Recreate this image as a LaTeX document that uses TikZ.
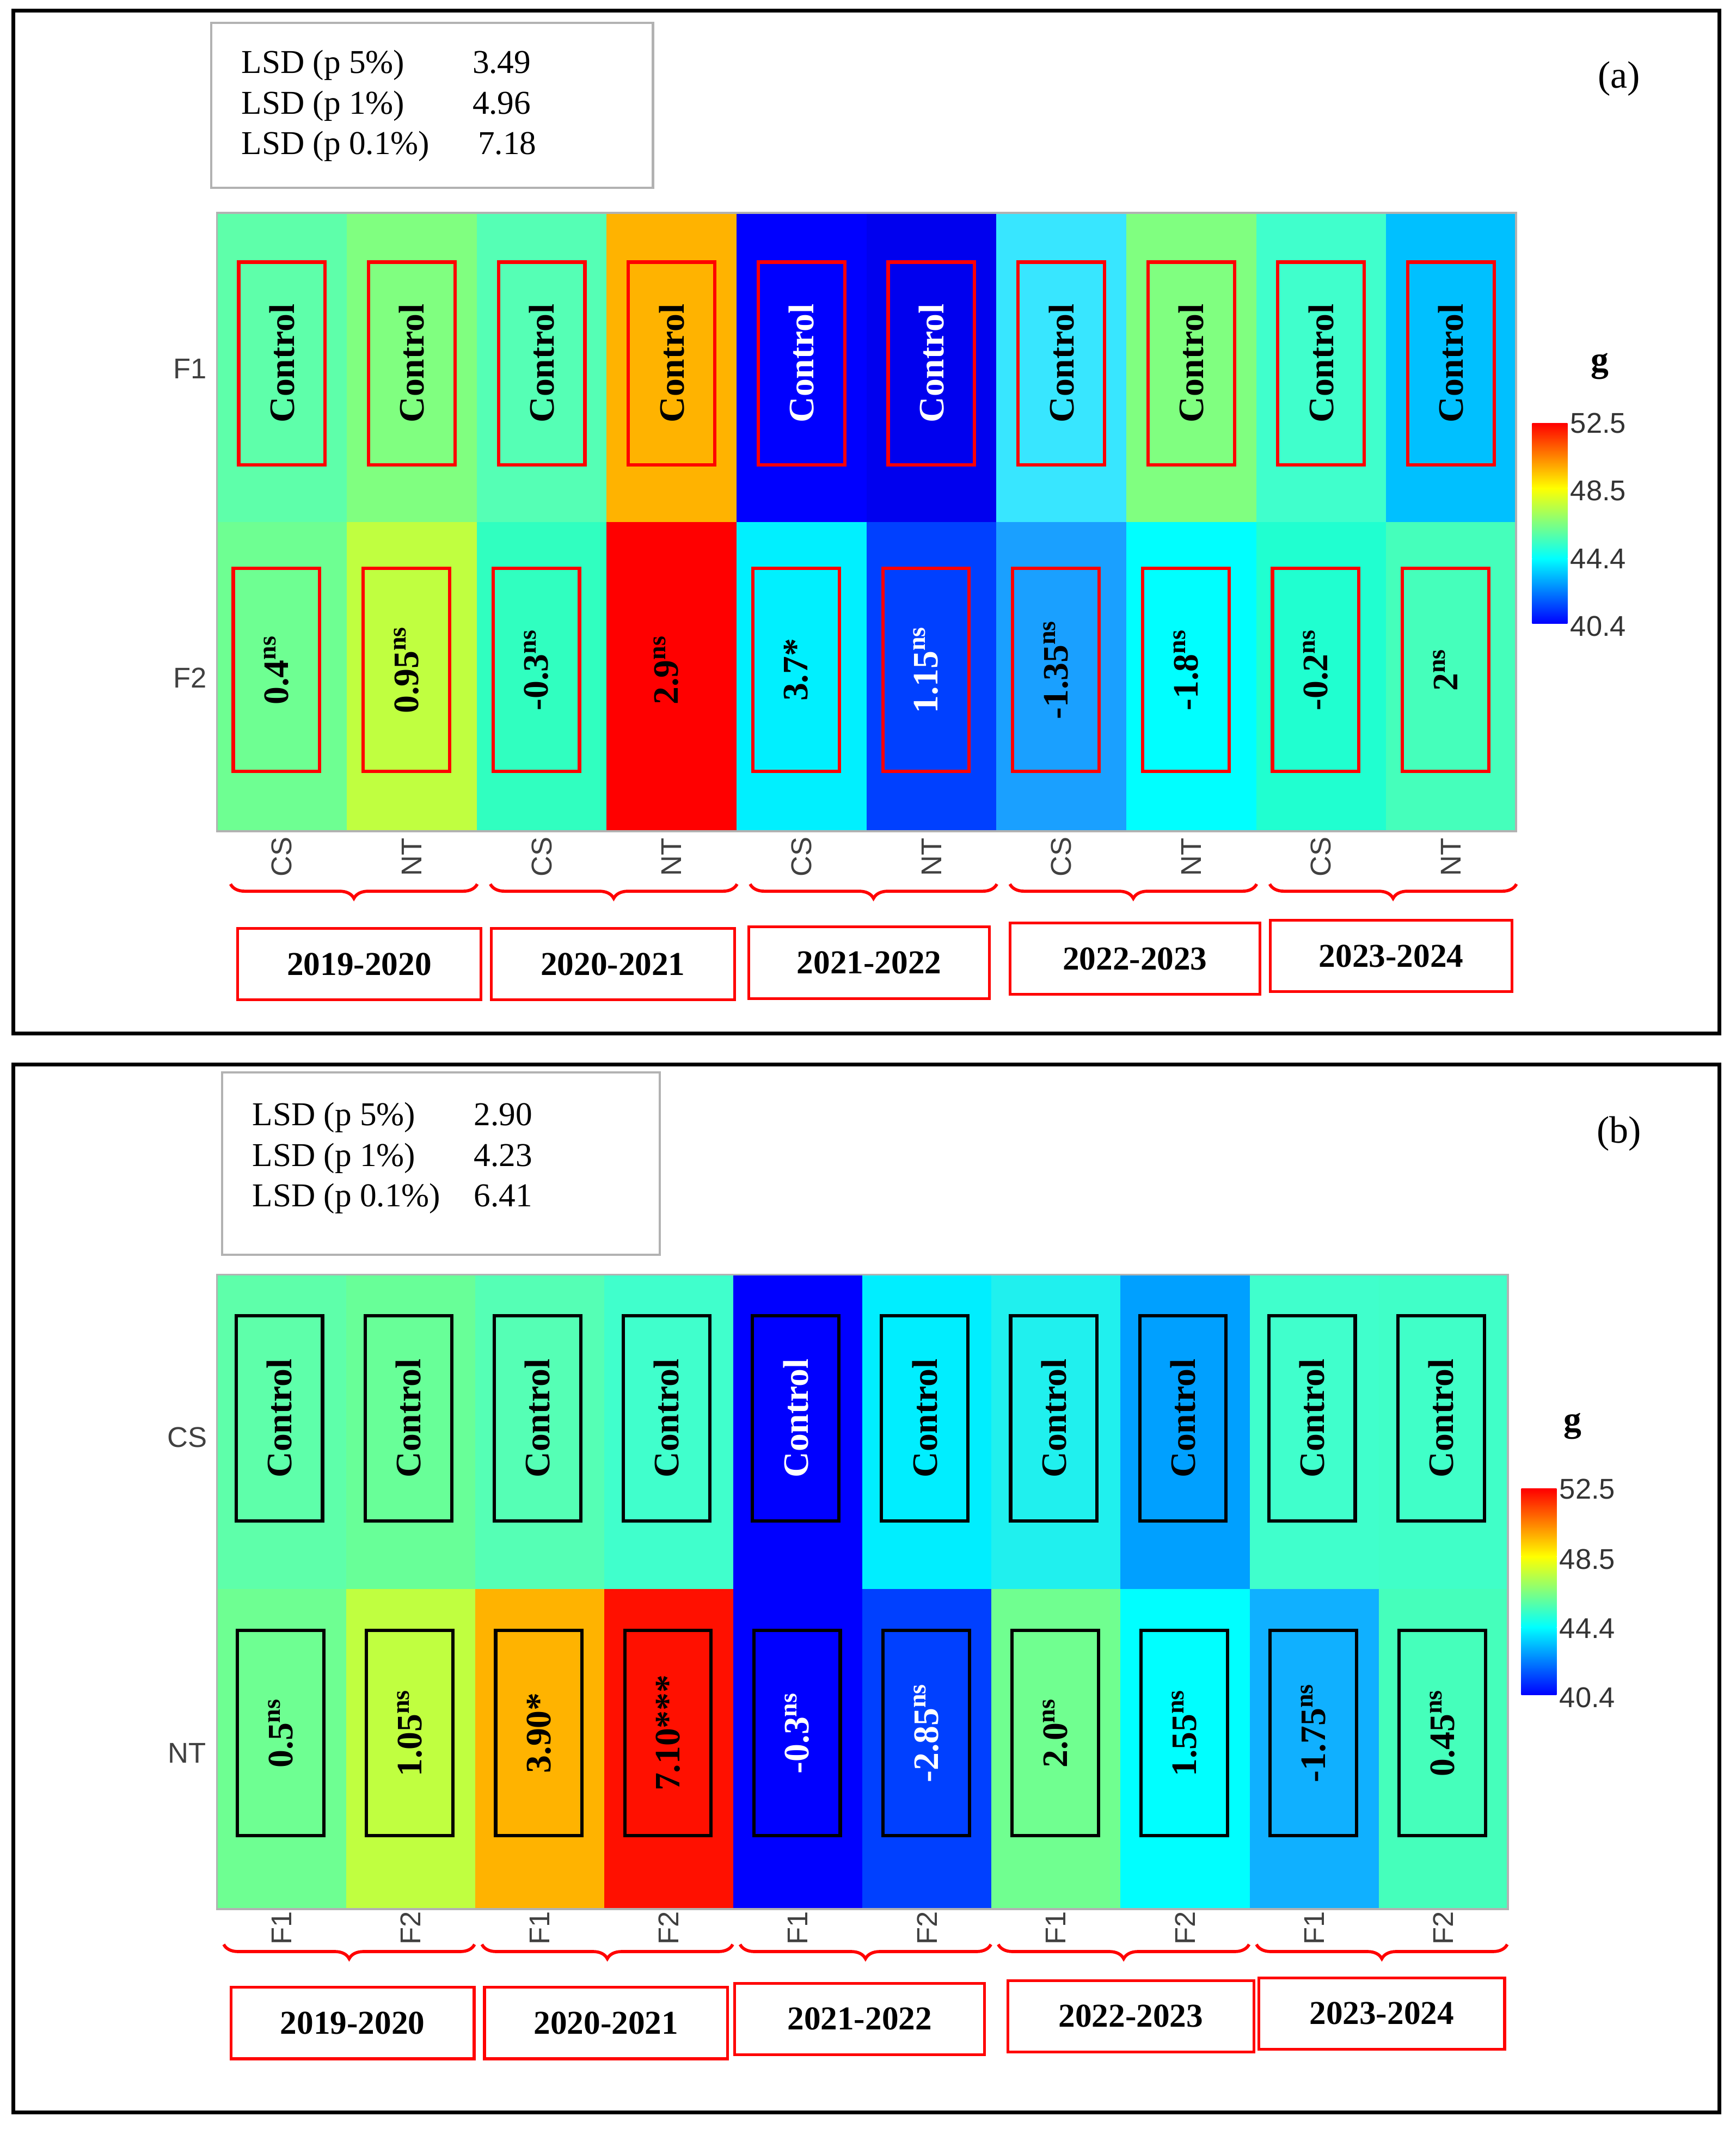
\documentclass[tikz,border=0pt]{standalone}
\usepackage{fontspec}
\setmainfont{Liberation Serif}
\setsansfont{Liberation Sans}
\usetikzlibrary{decorations.pathreplacing}
\begin{document}
\begin{tikzpicture}[x=0.02cm,y=-0.02cm,
  frame/.style={draw=black,line width=1.6pt},
  lsdbox/.style={draw=gray!60,line width=1pt,fill=white},
  cellbox/.style={line width=1.4pt},
  val/.style={font=\bfseries\fontsize{15}{15}\selectfont,rotate=90},
  ax/.style={font=\sffamily\fontsize{12}{12}\selectfont,text=black!75},
  yearbox/.style={draw=red,line width=1.2pt,font=\bfseries\fontsize{14}{14}\selectfont,minimum height=30pt,inner sep=0pt},
  brc/.style={draw=red,line width=1.3pt,decorate,decoration={brace,mirror,amplitude=6pt}},
  lsd/.style={font=\fontsize{14}{17}\selectfont,align=left,anchor=north west}]
\useasboundingbox (0,0) rectangle (1280,1579);
\fill[white] (0,0) rectangle (1280,1579);
% ---------- panel a ----------
\draw[frame] (10,8) rectangle (1268,762);
\node[lsdbox,minimum width=327*0.567pt,minimum height=122*0.567pt,anchor=north west] (lsda) at (155,16) {};
\node[lsd] (lsdta) at (172,27) {\begin{tabular}{@{}l@{\hspace{18pt}}l@{}}LSD (p 5\%) & 3.49\\ LSD (p 1\%) & 4.96\\ LSD (p 0.1\%) & \,7.18\end{tabular}};
\node[font=\fontsize{16}{16}\selectfont] (ta) at (1194,58) {(a)};
\def\cw{95.8}
\foreach \c/\b [count=\i from 0] in {5EFFAA/6EFF92,80FF80/C0FF40,55FFB5/30FFC0,FFB300/FF0000,0000FF/00F0FF,0000EE/0040FF,38E6FF/1AA0FF,80FF80/00FFFF,40FFCC/20FFD0,00C0FF/45FFBB}{
  \definecolor{ct}{HTML}{\c}\definecolor{cb}{HTML}{\b}
  \fill[ct] (160+\i*\cw,157) rectangle (160+\i*\cw+\cw+0.3,385);
  \fill[cb] (160+\i*\cw,385) rectangle (160+\i*\cw+\cw+0.3,613);
}
\draw[gray!60,line width=0.8pt] (160,157) rectangle (1118,613);
\foreach \v/\tc/\cc [count=\i from 0] in {{0.4\textsuperscript{ns}}/black/black,{0.95\textsuperscript{ns}}/black/black,{-0.3\textsuperscript{ns}}/black/black,{2.9\textsuperscript{ns}}/black/black,{3.7*}/black/white,{1.15\textsuperscript{ns}}/white/white,{-1.35\textsuperscript{ns}}/black/black,{-1.8\textsuperscript{ns}}/black/black,{-0.2\textsuperscript{ns}}/black/black,{2\textsuperscript{ns}}/black/black}{
  \node[cellbox,draw=red,minimum width=150*0.567pt,minimum height=64*0.567pt,rotate=90] (at\i) at (207.9+\i*\cw,268) {};
  \node[val,text=\cc] (att\i) at (207.9+\i*\cw,268) {Control};
  \node[cellbox,draw=red,minimum width=150*0.567pt,minimum height=64*0.567pt,rotate=90] (ab\i) at (203.9+\i*\cw,494) {};
  \node[val,text=\tc] (abt\i) at (203.9+\i*\cw,494) {\v};
}
\node[ax] (f1a) at (140,272) {F1};
\node[ax] (f2a) at (140,500) {F2};
\foreach \l [count=\i from 0] in {CS,NT,CS,NT,CS,NT,CS,NT,CS,NT}{
  \node[ax,rotate=90] (ca\i) at (207.9+\i*\cw,632) {\l};
}
\foreach \i in {0,...,4}{
  \draw[brc] (170+\i*191.6,652) -- (352+\i*191.6,652);
}
\node[yearbox,minimum width=180*0.567pt] (ya1) at (265,711) {2019-2020};
\node[yearbox,minimum width=180*0.567pt] (ya2) at (452,711) {2020-2021};
\node[yearbox,minimum width=178*0.567pt] (ya3) at (641,710) {2021-2022};
\node[yearbox,minimum width=185*0.567pt] (ya4) at (837,707) {2022-2023};
\node[yearbox,minimum width=179*0.567pt] (ya5) at (1026,705) {2023-2024};
% colorbar a
\shade[top color=yellow,bottom color=cyan] (1130,360) rectangle (1156,412);
\shade[top color=cyan,bottom color=blue] (1130,412) rectangle (1156,460);
\shade[top color=red,bottom color=yellow] (1130,312) rectangle (1156,360);
\node[font=\bfseries\fontsize{15}{15}\selectfont] (ga) at (1180,270) {g};
\foreach \n/\y in {52.5/312,48.5/362,44.4/412,40.4/462}{\node[ax,anchor=west,text=black!80] at (1152,\y) {\n};}
% ---------- panel b ----------
\draw[frame] (10,785) rectangle (1268,1558);
\node[lsdbox,minimum width=324*0.567pt,minimum height=135*0.567pt,anchor=north west] (lsdb) at (163,790) {};
\node[lsd] (lsdtb) at (180,803) {\begin{tabular}{@{}l@{\hspace{14pt}}l@{}}LSD (p 5\%) & 2.90\\ LSD (p 1\%) & 4.23\\ LSD (p 0.1\%) & 6.41\end{tabular}};
\node[font=\fontsize{16}{16}\selectfont] (tb) at (1194,836) {(b)};
\def\cwb{95.2}
\foreach \c/\b [count=\i from 0] in {5EFFAA/6EFF92,68FF98/C0FF40,55FFB5/FFB300,40FFCC/FF1000,0000FF/0000FF,00EEFF/0040FF,20F0EE/70FF90,00A0FF/00FFFF,40FFCC/10B0FF,40FFC8/45FFBB}{
  \definecolor{ct}{HTML}{\c}\definecolor{cb}{HTML}{\b}
  \fill[ct] (160+\i*\cwb,940) rectangle (160+\i*\cwb+\cwb+0.3,1172);
  \fill[cb] (160+\i*\cwb,1172) rectangle (160+\i*\cwb+\cwb+0.3,1408);
}
\draw[gray!60,line width=0.8pt] (160,940) rectangle (1112,1408);
\foreach \v/\tc/\cc [count=\i from 0] in {{0.5\textsuperscript{ns}}/black/black,{1.05\textsuperscript{ns}}/black/black,{3.90*}/black/black,{7.10***}/black/black,{-0.3\textsuperscript{ns}}/white/white,{-2.85\textsuperscript{ns}}/white/black,{2.0\textsuperscript{ns}}/black/black,{1.55\textsuperscript{ns}}/black/black,{-1.75\textsuperscript{ns}}/black/black,{0.45\textsuperscript{ns}}/black/black}{
  \node[cellbox,draw=black,minimum width=152*0.567pt,minimum height=64*0.567pt,rotate=90] (bt\i) at (206+\i*\cwb,1046) {};
  \node[val,text=\cc] (btt\i) at (206+\i*\cwb,1046) {Control};
  \node[cellbox,draw=black,minimum width=152*0.567pt,minimum height=64*0.567pt,rotate=90] (bb\i) at (207+\i*\cwb,1278) {};
  \node[val,text=\tc] (bbt\i) at (207+\i*\cwb,1278) {\v};
}
\node[ax] (csb) at (138,1060) {CS};
\node[ax] (ntb) at (138,1293) {NT};
\foreach \l [count=\i from 0] in {F1,F2,F1,F2,F1,F2,F1,F2,F1,F2}{
  \node[ax,rotate=90] (cb\i) at (207.6+\i*\cwb,1422) {\l};
}
\foreach \i in {0,...,4}{
  \draw[brc] (165+\i*190.4,1434) -- (350+\i*190.4,1434);
}
\node[yearbox,minimum width=180*0.567pt] (yb1) at (260,1492) {2019-2020};
\node[yearbox,minimum width=180*0.567pt] (yb2) at (447,1492) {2020-2021};
\node[yearbox,minimum width=185*0.567pt] (yb3) at (634,1489) {2021-2022};
\node[yearbox,minimum width=182*0.567pt] (yb4) at (834,1487) {2022-2023};
\node[yearbox,minimum width=182*0.567pt] (yb5) at (1019,1485) {2023-2024};
% colorbar b
\shade[top color=yellow,bottom color=cyan] (1122,1148) rectangle (1148,1200);
\shade[top color=cyan,bottom color=blue] (1122,1200) rectangle (1148,1250);
\shade[top color=red,bottom color=yellow] (1122,1098) rectangle (1148,1148);
\node[font=\bfseries\fontsize{15}{15}\selectfont] (gb) at (1160,1052) {g};
\foreach \n/\y in {52.5/1098,48.5/1150,44.4/1201,40.4/1252}{\node[ax,anchor=west,text=black!80] at (1144,\y) {\n};}
\end{tikzpicture}
\end{document}
